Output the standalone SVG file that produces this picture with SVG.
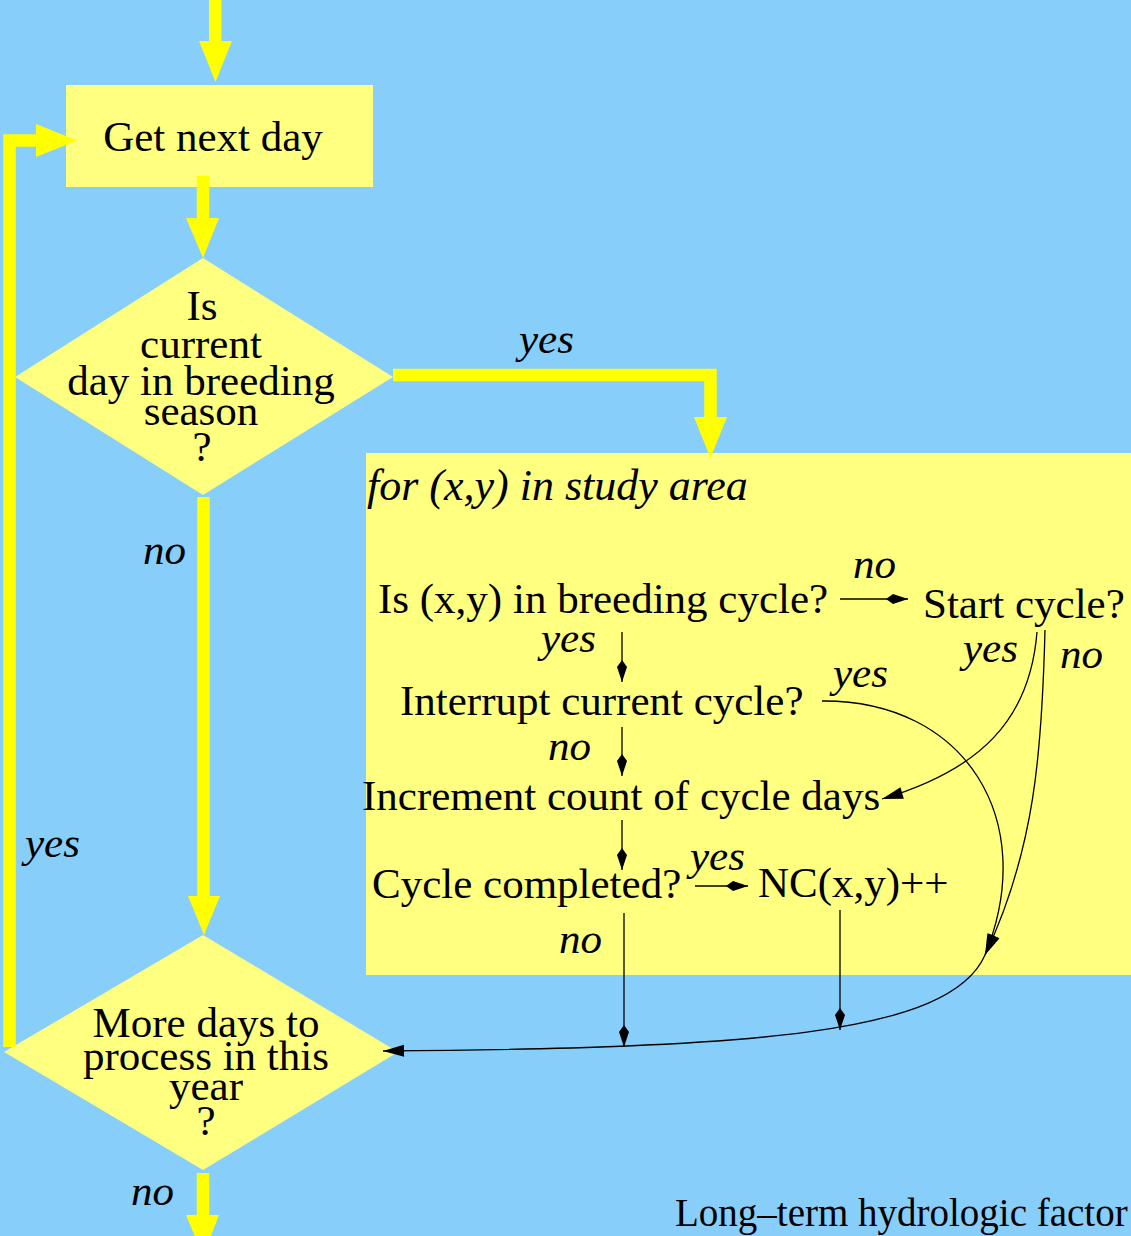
<svg xmlns="http://www.w3.org/2000/svg" width="1131" height="1236" viewBox="0 0 1131 1236">
<style>
.t{font-family:"Liberation Serif","Times New Roman",serif;font-size:43px;fill:#000}
.i{font-family:"Liberation Serif","Times New Roman",serif;font-size:43px;font-style:italic;fill:#000}
.m{text-anchor:middle}
.node{fill:#FFFF80}
.big{fill:none;stroke:#FFFF00;stroke-width:12.5;stroke-linejoin:miter}
.head{fill:#FFFF00}
.thin{fill:none;stroke:#000;stroke-width:1.3}
</style>
<defs>
<marker id="kite" markerUnits="userSpaceOnUse" orient="auto" refX="0" refY="0" markerWidth="30" markerHeight="14" overflow="visible">
<path d="M0,0 L-15,-5 L-22,0 L-15,5 Z" fill="#000"/>
</marker>
<marker id="tri" markerUnits="userSpaceOnUse" orient="auto" refX="0" refY="0" markerWidth="30" markerHeight="14" overflow="visible">
<path d="M0,0 L-21,-6 L-21,6 Z" fill="#000"/>
</marker>
</defs>
<rect width="1131" height="1236" fill="#87CEFA"/>

<g id="loop-box">
<rect class="node" x="366" y="453" width="765" height="522"/>
<text class="i" x="367" y="500" style="font-size:44px">for (x,y) in study area</text>
</g>

<g id="get-next-day">
<rect class="node" x="66" y="85" width="307" height="102"/>
<text class="t m" x="213" y="151">Get next day</text>
</g>

<g id="is-breeding-season">
<polygon class="node" points="203,258 393,377 203,495 15,377"/>
<text class="t m" x="202" y="320">Is</text>
<text class="t m" x="201" y="358">current</text>
<text class="t m" x="201" y="395">day in breeding</text>
<text class="t m" x="201" y="425">season</text>
<text class="t m" x="202" y="461">?</text>
</g>

<g id="more-days">
<polygon class="node" points="203,935 398,1052 203,1170 4,1052"/>
<text class="t m" x="206" y="1037">More days to</text>
<text class="t m" x="206" y="1070">process in this</text>
<text class="t m" x="206" y="1100">year</text>
<text class="t m" x="206" y="1135">?</text>
</g>

<g id="in-cycle"><text class="t" x="378" y="613">Is (x,y) in breeding cycle?</text></g>
<g id="start-cycle"><text class="t" x="923" y="618">Start cycle?</text></g>
<g id="interrupt"><text class="t" x="400" y="715">Interrupt current cycle?</text></g>
<g id="increment"><text class="t" x="362" y="810">Increment count of cycle days</text></g>
<g id="completed"><text class="t" x="372" y="898">Cycle completed?</text></g>
<g id="nc"><text class="t" x="758" y="897">NC(x,y)++</text></g>

<g id="connectors">
<rect class="head" x="209" y="0" width="12.5" height="42"/>
<polygon class="head" points="199,41 232,41 215.5,82"/>
<path class="big" d="M203,176 V219"/>
<polygon class="head" points="186,218 219,218 203,258"/>
<path class="big" d="M9.5,1047 V140.5 H37"/>
<polygon class="head" points="36,124 36,157 77,140.5"/>
<path class="big" d="M393,375 H710.5 V418"/>
<polygon class="head" points="694,417 727,417 710.5,458"/>
<path class="big" d="M203.5,497 V897"/>
<polygon class="head" points="188,896 220,896 204,935"/>
<path class="big" d="M203,1173 V1216"/>
<polygon class="head" points="186,1215 219,1215 203,1256"/>

<path class="thin" d="M840,599 H908" marker-end="url(#kite)"/>
<path class="thin" d="M622,632 V682" marker-end="url(#kite)"/>
<path class="thin" d="M622,727 V776" marker-end="url(#kite)"/>
<path class="thin" d="M622,820 V870" marker-end="url(#kite)"/>
<path class="thin" d="M695,886 H748" marker-end="url(#kite)"/>
<path class="thin" d="M624,913 V1047" marker-end="url(#kite)"/>
<path class="thin" d="M840,910 V1030" marker-end="url(#kite)"/>
<path class="thin" d="M1037,632 C1030,720 980,770 882,799" marker-end="url(#tri)"/>
<path class="thin" d="M822,701 C965,700 1040,820 985,955" marker-end="url(#tri)"/>
<path class="thin" d="M1045,630 C1042,750 1035,850 985,955" marker-end="url(#tri)"/>
<path class="thin" d="M985,955 C950,1035 750,1048 383,1051" marker-end="url(#tri)"/>
</g>

<g id="labels">
<text class="i" x="519" y="353">yes</text>
<text class="i" x="143" y="564">no</text>
<text class="i" x="25" y="857">yes</text>
<text class="i" x="131" y="1205">no</text>
<text class="i" x="853" y="578">no</text>
<text class="i" x="541" y="652">yes</text>
<text class="i" x="963" y="662">yes</text>
<text class="i" x="1060" y="668">no</text>
<text class="i" x="833" y="687">yes</text>
<text class="i" x="548" y="760">no</text>
<text class="i" x="690" y="870">yes</text>
<text class="i" x="559" y="953">no</text>
</g>
<text class="t" x="675" y="1226" style="font-size:39px">Long–term hydrologic factor</text>
</svg>
